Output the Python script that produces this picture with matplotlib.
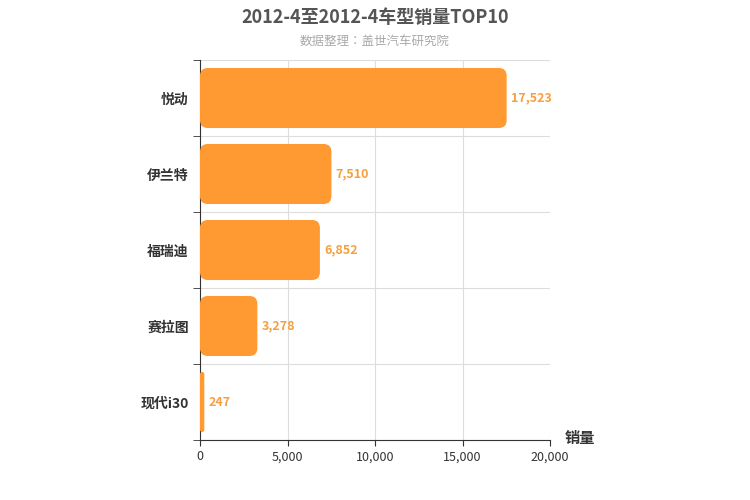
import matplotlib.pyplot as plt
from matplotlib import font_manager as fm
from matplotlib.patches import FancyBboxPatch
import numpy as np

# pick whatever CJK family is actually registered
for f in fm.findSystemFonts():
    if 'CJK' in f or 'Noto' in f:
        try:
            fm.fontManager.addfont(f)
        except Exception:
            pass
cjk = [f.name for f in fm.fontManager.ttflist if 'CJK' in f.name]
cjk = sorted(set(cjk), key=lambda s: ('SC' not in s, s))
plt.rcParams['font.family'] = (cjk[:1] if cjk else []) + ['DejaVu Sans']

models = ['悦动', '伊兰特', '福瑞迪', '赛拉图', '现代i30']
sales = [17523, 7510, 6852, 3278, 247]
xticks = [0, 5000, 10000, 15000, 20000]

fig = plt.figure(figsize=(7.5, 5), dpi=100)
ax = fig.add_axes([200 / 750, 0.12, 350 / 750, 0.76])

n = len(models)
ys = np.arange(n)[::-1]
h = 0.79
xr, yr = 20000, n
# data units per pixel
aspect = (yr / 380) / (xr / 350)
for y, v in zip(ys, sales):
    r = min(450, v / 2)
    p = FancyBboxPatch((0, y - h / 2), v, h,
                       boxstyle=f'round,pad=0,rounding_size={r}',
                       mutation_aspect=aspect, fc='#ff9a33', ec='none', zorder=3)
    ax.add_patch(p)
    ax.text(v + 250, y, f'{v:,}', va='center', ha='left', color='#f5a040',
            fontsize=9, fontweight='bold', zorder=4)

ax.set_xlim(0, 20000)
ax.set_ylim(-0.5, n - 0.5)
ax.set_xticks(xticks)
ax.set_xticklabels([f'{t:,}' for t in xticks], fontsize=9, color='#333333')
ax.set_yticks(ys)
ax.set_yticklabels(models, fontsize=10, fontweight='bold', color='#333333')
ax.tick_params(axis='y', length=0, pad=8)
ax.tick_params(axis='x', length=4, color='#333333')
ax.set_yticks(np.arange(n + 1) - 0.5, minor=True)
ax.tick_params(axis='y', which='minor', length=5, color='#333333')
ax.grid(axis='x', color='#dddddd', lw=0.8, zorder=0)
ax.grid(axis='y', which='minor', color='#dddddd', lw=0.8, zorder=0)
for s in ['top', 'right']:
    ax.spines[s].set_visible(False)
for s in ['left', 'bottom']:
    ax.spines[s].set_color('#333333')

fig.text(0.5, 0.965, '2012-4至2012-4车型销量TOP10', ha='center', va='center',
         fontsize=13, fontweight='bold', color='#555555')
fig.text(0.5, 0.918, '数据整理：盖世汽车研究院', ha='center', va='center',
         fontsize=9, color='#aaaaaa')
fig.text(565 / 750, 1 - 438 / 500, '销量', ha='left', va='center',
         fontsize=11, fontweight='bold', color='#333333')

fig.savefig('out.png', dpi=100)
